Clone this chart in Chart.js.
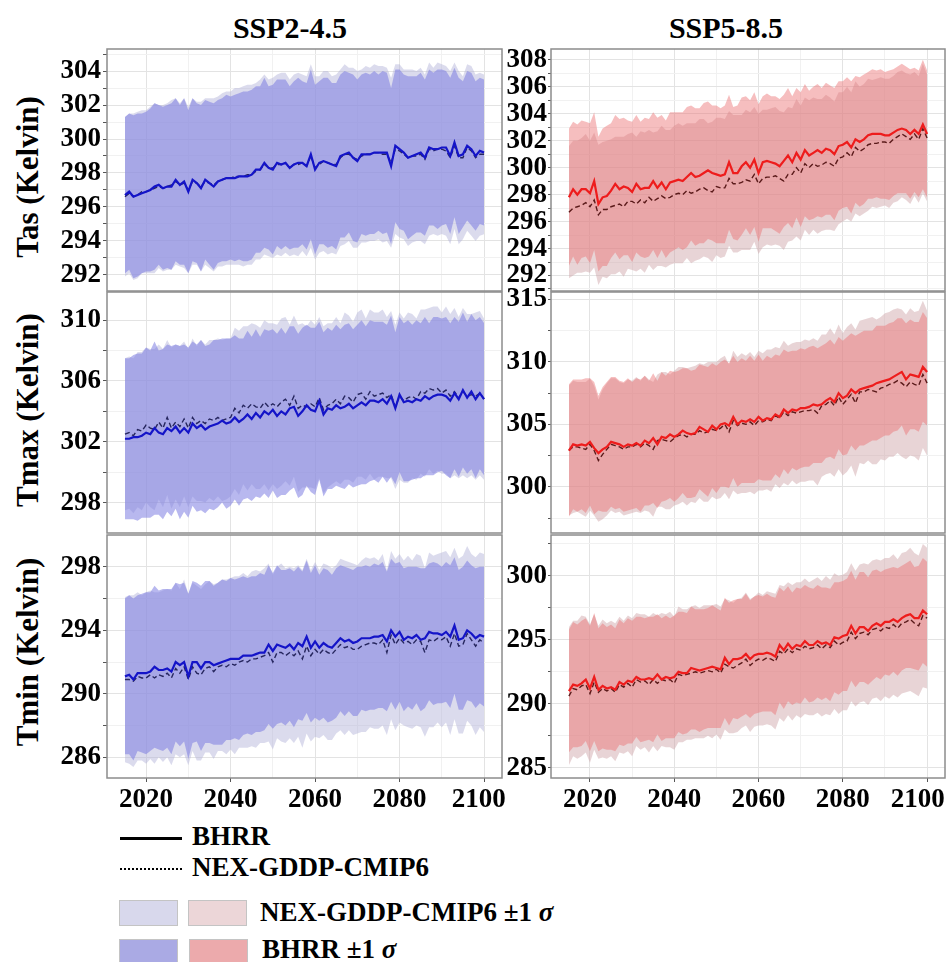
<!DOCTYPE html>
<html><head><meta charset="utf-8">
<script src="https://cdn.jsdelivr.net/npm/chart.js@4.4.1/dist/chart.umd.min.js"></script>
<style>
body{margin:0;width:947px;height:962px;background:#fff;position:relative;overflow:hidden;font-family:"Liberation Serif","Times New Roman",serif;color:#000;}
canvas{position:absolute;}
.t{position:absolute;font-weight:bold;white-space:nowrap;line-height:1;}
.title{font-size:30px;transform:translateX(-50%);}
.ylab{font-size:31px;transform:translate(-50%,-50%) rotate(-90deg);line-height:1.1;}
.leg{font-size:27px;}
.patch{position:absolute;border:1px solid #c4c4c4;box-sizing:border-box;}
</style></head><body>
<div class="t title" style="left:290px;top:13px;">SSP2-4.5</div>
<div class="t title" style="left:726px;top:13px;">SSP5-8.5</div>
<div class="t ylab" style="left:28px;top:177px;">Tas (Kelvin)</div>
<div class="t ylab" style="left:28px;top:410px;">Tmax (Kelvin)</div>
<div class="t ylab" style="left:28px;top:652px;">Tmin (Kelvin)</div>

<div style="position:absolute;left:120px;top:837px;width:62px;border-top:3px solid #000;"></div>
<div class="t leg" style="left:192px;top:823px;">BHRR</div>
<div style="position:absolute;left:120px;top:868px;width:62px;border-top:2px dotted #000;"></div>
<div class="t leg" style="left:192px;top:854px;">NEX-GDDP-CMIP6</div>
<div class="patch" style="left:119px;top:900px;width:59px;height:26px;background:#d8d8ec;"></div>
<div class="patch" style="left:188px;top:900px;width:59px;height:26px;background:#ecd6d8;"></div>
<div class="t leg" style="left:260px;top:899px;">NEX-GDDP-CMIP6 ±1 <span style="font-style:italic;">σ</span></div>
<div class="patch" style="left:119px;top:939px;width:59px;height:26px;background:#aaaae4;"></div>
<div class="patch" style="left:189px;top:939px;width:59px;height:26px;background:#ecaaac;"></div>
<div class="t leg" style="left:262px;top:936px;">BHRR ±1 <span style="font-style:italic;">σ</span></div>

<script>
// ---------------- DATA ----------------
const years = [2015,2016,2017,2018,2019,2020,2021,2022,2023,2024,
2025,2026,2027,2028,2029,2030,2031,2032,2033,2034,
2035,2036,2037,2038,2039,2040,2041,2042,2043,2044,
2045,2046,2047,2048,2049,2050,2051,2052,2053,2054,
2055,2056,2057,2058,2059,2060,2061,2062,2063,2064,
2065,2066,2067,2068,2069,2070,2071,2072,2073,2074,
2075,2076,2077,2078,2079,2080,2081,2082,2083,2084,
2085,2086,2087,2088,2089,2090,2091,2092,2093,2094,
2095,2096,2097,2098,2099,2100];
const xTickLabels = [2020,2040,2060,2080,2100];

// Tas, SSP2-4.5
const tasSsp2Bhrr = [296.7,296.9,296.6,296.7,296.8,296.9,297.0,297.2,297.3,297.1,
297.2,297.2,297.6,297.3,297.5,296.9,297.6,297.4,297.1,297.6,
297.4,297.2,297.5,297.6,297.7,297.7,297.7,297.8,297.8,297.8,
297.9,298.2,298.2,298.6,298.3,298.2,298.6,298.5,298.6,298.3,
298.5,298.6,298.6,298.4,299.1,298.2,298.6,298.7,298.6,298.5,
298.4,299.0,299.1,299.2,298.9,298.7,299.1,299.1,299.1,299.2,
299.2,299.2,299.2,298.4,299.6,299.4,299.2,298.9,299.0,299.1,
299.2,298.9,299.5,299.4,299.4,299.5,299.5,299.0,299.8,299.0,
299.1,299.6,299.4,299.0,299.3,299.2];
const tasSsp2Nex = [296.6,296.8,296.6,296.7,296.9,296.9,297.0,297.1,297.2,297.1,
297.2,297.3,297.5,297.3,297.4,297.0,297.5,297.4,297.2,297.5,
297.4,297.3,297.5,297.6,297.7,297.7,297.8,297.8,297.8,297.9,
297.9,298.1,298.2,298.5,298.3,298.3,298.5,298.5,298.6,298.3,
298.5,298.5,298.6,298.4,299.0,298.3,298.5,298.7,298.6,298.5,
298.5,298.9,299.1,299.1,298.9,298.8,299.0,299.1,299.1,299.2,
299.2,299.1,299.1,298.6,299.4,299.3,299.1,298.9,299.0,299.0,
299.1,298.8,299.4,299.3,299.4,299.4,299.3,298.9,299.6,298.9,
298.9,299.5,299.3,298.9,299.1,299.1];
const tasSsp2BhrrSd = [4.6,4.6,4.8,4.8,4.7,4.7,4.8,4.9,4.7,4.8,
4.8,4.9,4.8,4.7,4.9,4.8,4.8,4.7,4.9,4.7,
4.8,4.9,4.8,4.8,4.9,4.8,4.9,4.9,5.0,5.0,
5.0,4.9,4.9,5.0,4.8,5.0,4.9,5.0,4.9,4.8,
4.9,5.0,4.8,4.9,5.0,5.0,4.8,4.9,5.0,4.8,
4.9,4.8,4.9,4.7,4.9,4.8,4.7,4.8,4.7,4.8,
4.6,4.8,4.7,4.6,4.5,4.7,4.6,4.8,4.7,4.6,
4.7,4.6,4.6,4.5,4.7,4.6,4.5,4.6,4.4,4.6,
4.3,4.4,4.5,4.4,4.3,4.3];
const tasSsp2NexSd = [4.7,4.7,4.9,4.9,4.8,4.8,4.9,5.0,4.8,4.9,
4.9,5.0,4.9,4.8,5.0,4.9,4.9,4.8,5.0,4.9,
5.0,5.1,5.0,5.1,5.1,5.1,5.2,5.2,5.3,5.3,
5.3,5.2,5.3,5.3,5.2,5.3,5.3,5.4,5.3,5.2,
5.3,5.4,5.2,5.3,5.4,5.4,5.2,5.3,5.4,5.2,
5.3,5.2,5.3,5.1,5.3,5.2,5.1,5.2,5.1,5.2,
5.1,5.2,5.1,5.0,5.0,5.1,5.0,5.2,5.1,5.0,
5.1,5.0,5.1,4.9,5.1,5.0,5.0,5.1,4.9,5.1,
4.8,4.9,5.0,4.9,4.8,4.7];
const tasSsp2Ticks = [292,294,296,298,300,302,304];

// Tas, SSP5-8.5
const tasSsp5Bhrr = [297.8,298.4,298.0,298.4,298.4,298.1,299.0,297.3,297.8,297.9,
298.3,298.8,298.4,298.6,298.5,298.2,298.8,298.4,298.5,298.5,
299.0,298.5,298.9,298.4,298.9,299.0,299.1,299.0,299.3,299.6,
299.3,299.4,299.6,299.8,299.6,299.5,299.4,299.5,300.4,299.6,
299.6,300.1,300.4,300.0,300.6,299.6,300.4,300.5,300.4,300.3,
300.1,300.5,300.9,300.4,301.1,300.6,301.3,300.9,301.1,301.3,
301.1,301.4,301.3,301.0,301.6,301.7,301.9,301.5,302.1,301.9,
302.1,302.4,302.5,302.5,302.5,302.4,302.4,302.6,302.8,302.9,
302.8,302.5,302.8,302.5,303.2,302.5];
const tasSsp5Nex = [296.7,297.0,297.1,297.2,297.4,297.1,297.6,296.5,296.9,296.9,
297.1,297.2,297.3,297.1,297.5,297.5,297.3,297.6,297.4,297.8,
297.5,297.7,297.9,297.7,297.8,298.0,298.1,298.0,298.3,298.1,
298.2,298.4,298.5,298.3,298.2,298.6,298.5,298.5,299.2,298.8,
298.8,298.9,299.1,299.0,299.5,298.8,299.2,299.3,299.3,299.4,
299.2,299.0,299.5,299.5,300.0,299.6,300.3,300.0,300.3,300.1,
300.2,300.4,300.3,300.1,300.7,300.8,301.1,300.8,301.5,301.2,
301.4,301.7,301.8,301.8,301.9,301.9,301.8,302.1,302.3,302.5,
302.3,302.1,302.5,302.1,302.9,302.2];
const tasSsp5BhrrSd = [5.1,5.0,5.2,5.1,5.0,5.2,5.1,5.0,5.1,5.2,
5.0,5.1,5.2,5.1,5.0,5.2,5.1,5.0,5.2,5.1,
5.1,5.2,5.0,5.1,5.2,5.1,5.0,5.1,5.2,5.0,
5.1,5.0,5.2,5.1,5.0,5.1,5.0,5.1,5.0,4.9,
5.0,5.1,4.9,5.0,5.0,5.1,4.9,5.0,4.9,5.0,
5.0,4.9,5.0,4.9,4.8,5.0,4.9,4.8,4.9,4.9,
4.8,4.9,4.8,4.9,4.8,4.7,4.8,4.9,4.7,4.8,
4.8,4.7,4.8,4.7,4.8,4.7,4.8,4.7,4.7,4.8,
4.7,4.8,4.6,4.7,4.8,4.7];
const tasSsp5NexSd = [4.9,5.0,4.9,5.0,5.1,4.9,5.0,5.2,5.0,5.1,
5.0,5.1,5.0,5.2,5.0,5.1,5.0,5.1,5.2,5.0,
5.1,5.0,5.2,5.1,5.0,5.1,5.2,5.1,5.0,5.2,
5.1,5.2,5.1,5.0,5.2,5.1,5.2,5.1,5.0,5.1,
5.1,5.0,5.2,5.1,5.0,5.2,5.1,5.0,5.1,5.1,
5.0,5.1,5.0,4.9,5.1,5.0,4.9,5.0,4.9,5.0,
4.9,5.0,4.9,4.8,4.9,4.8,4.9,4.8,4.9,4.8,
4.8,4.9,4.7,4.8,4.8,4.7,4.8,4.7,4.8,4.7,
4.7,4.8,4.6,4.7,4.8,4.7];
const tasSsp5Ticks = [292,294,296,298,300,302,304,306,308];

// Tmax, SSP2-4.5
const tmaxSsp2Bhrr = [302.2,302.2,302.3,302.3,302.4,302.6,302.5,302.9,302.6,302.5,
302.9,302.7,303.0,302.6,302.9,302.6,303.2,302.9,303.1,302.8,
303.0,303.1,303.2,303.4,303.2,303.3,303.6,303.3,303.5,303.8,
303.5,303.9,303.6,304.0,303.8,304.1,303.7,304.0,303.8,304.2,
304.3,303.7,304.0,304.4,304.1,304.0,304.7,303.8,304.2,304.1,
304.4,304.2,304.3,304.5,304.2,304.4,304.6,304.4,304.7,304.7,
304.6,304.8,304.5,305.0,304.2,305.1,304.6,304.7,304.6,304.8,
304.7,305.0,304.8,305.0,305.1,305.1,305.0,304.7,305.2,304.8,
305.4,304.9,305.3,304.8,305.2,304.8];
const tmaxSsp2Nex = [302.5,302.6,302.4,302.8,302.7,303.1,302.9,302.8,303.3,302.9,
303.6,302.9,303.3,303.0,303.5,302.9,303.6,303.2,303.4,303.2,
303.5,303.4,303.6,303.4,303.5,303.6,304.2,303.9,304.4,304.2,
304.5,304.3,304.2,304.6,304.3,304.5,304.3,304.6,304.8,304.4,
305.0,304.2,304.4,304.3,304.5,304.3,304.9,304.1,304.4,304.5,
304.8,304.5,305.0,304.9,304.6,305.1,305.2,304.8,305.3,305.0,
305.1,305.2,304.9,305.1,304.3,305.0,304.7,304.9,305.0,304.8,
305.3,305.2,305.5,305.4,305.5,305.2,305.4,305.0,305.3,304.9,
305.3,305.0,305.1,305.0,305.2,304.8];
const tmaxSsp2BhrrSd = [5.3,5.3,5.4,5.5,5.4,5.6,5.5,5.7,5.4,5.6,
5.5,5.6,5.4,5.7,5.5,5.6,5.4,5.5,5.6,5.5,
5.4,5.6,5.5,5.4,5.6,5.5,5.4,5.5,5.3,5.5,
5.4,5.5,5.3,5.4,5.5,5.3,5.4,5.5,5.3,5.4,
5.3,5.4,5.5,5.3,5.4,5.5,5.2,5.4,5.3,5.2,
5.3,5.2,5.4,5.3,5.2,5.3,5.4,5.2,5.3,5.2,
5.3,5.1,5.2,5.3,5.0,5.1,5.2,5.3,5.1,5.2,
5.1,5.2,5.0,5.2,5.1,5.0,5.2,5.1,5.0,5.1,
5.1,5.0,5.1,5.2,5.0,5.0];
const tmaxSsp2NexSd = [5.0,5.0,5.1,5.1,5.2,5.1,5.2,5.3,5.1,5.2,
5.1,5.3,5.1,5.3,5.1,5.2,5.2,5.1,5.3,5.2,
5.2,5.3,5.2,5.3,5.3,5.2,5.3,5.4,5.2,5.4,
5.3,5.4,5.3,5.4,5.5,5.3,5.4,5.5,5.4,5.3,
5.3,5.5,5.4,5.3,5.5,5.4,5.3,5.5,5.4,5.3,
5.4,5.3,5.5,5.4,5.3,5.4,5.5,5.3,5.4,5.5,
5.4,5.5,5.3,5.5,5.4,5.5,5.4,5.6,5.4,5.3,
5.4,5.5,5.3,5.5,5.4,5.3,5.5,5.4,5.5,5.3,
5.5,5.4,5.3,5.5,5.4,5.3];
const tmaxSsp2Ticks = [298,302,306,310];

// Tmax, SSP5-8.5
const tmaxSsp5Bhrr = [302.9,303.4,303.3,303.4,303.3,303.6,303.1,302.7,303.0,303.2,
303.6,303.5,303.4,303.2,303.4,303.3,303.5,303.3,303.7,303.5,
303.9,303.4,304.0,303.9,304.2,304.0,304.2,304.5,304.3,304.2,
304.3,304.8,304.6,304.4,304.9,304.6,305.0,305.1,304.9,305.6,
305.0,305.3,305.2,305.4,305.2,305.6,305.3,305.5,305.4,305.8,
305.6,306.2,305.9,306.2,306.1,306.3,306.3,306.4,306.6,306.5,
306.6,306.9,307.1,306.8,307.5,307.1,307.3,307.8,307.5,307.8,
307.9,308.0,308.1,308.3,308.4,308.5,308.6,308.8,309.0,309.2,
308.6,309.0,308.9,308.8,309.6,309.2];
const tmaxSsp5Nex = [302.9,303.2,303.2,303.1,303.0,303.4,302.9,302.1,302.6,303.0,
303.4,303.3,303.2,303.0,303.2,303.2,303.4,303.2,303.5,303.3,
303.0,303.7,303.8,303.7,303.6,303.9,304.1,304.2,304.0,304.2,
304.2,304.5,304.3,304.4,304.6,304.5,304.7,305.0,304.4,305.3,
304.9,305.1,305.0,305.2,304.9,305.3,305.2,305.4,305.3,305.7,
305.5,306.0,305.7,306.0,305.9,306.0,306.1,306.1,306.2,305.9,
306.5,306.6,306.9,306.5,307.2,306.6,307.0,307.4,306.7,307.6,
307.6,307.8,307.7,307.6,307.9,308.0,308.2,308.3,308.5,308.3,
308.0,308.4,308.2,308.1,309.0,308.3];
const tmaxSsp5BhrrSd = [5.3,5.2,5.3,5.2,5.4,5.1,5.3,4.6,5.0,5.2,
5.2,5.3,5.1,5.2,5.3,5.1,5.2,5.3,5.2,5.0,
5.2,5.1,5.2,5.0,5.1,5.2,5.1,5.0,5.2,5.1,
5.1,5.0,5.1,5.2,5.0,5.1,5.0,5.1,5.0,4.9,
5.0,5.0,4.9,5.1,4.9,5.0,4.8,5.0,4.9,4.8,
4.9,4.8,4.9,4.7,4.8,4.8,4.7,4.8,4.7,4.6,
4.7,4.6,4.7,4.6,4.5,4.6,4.7,4.5,4.6,4.5,
4.6,4.5,4.4,4.6,4.5,4.4,4.5,4.4,4.5,4.3,
4.5,4.4,4.3,4.4,4.4,4.3];
const tmaxSsp5NexSd = [5.2,5.3,5.2,5.3,5.4,5.3,5.2,4.9,5.2,5.3,
5.3,5.4,5.2,5.3,5.4,5.3,5.4,5.3,5.4,5.3,
5.4,5.3,5.4,5.5,5.4,5.4,5.5,5.4,5.5,5.4,
5.5,5.4,5.5,5.6,5.4,5.5,5.6,5.5,5.4,5.6,
5.5,5.6,5.5,5.6,5.5,5.6,5.5,5.6,5.7,5.5,
5.6,5.7,5.6,5.5,5.7,5.6,5.7,5.6,5.7,5.8,
5.7,5.6,5.8,5.7,5.8,5.7,5.8,5.7,5.9,5.7,
5.8,5.7,5.9,5.8,5.7,5.9,5.8,5.9,5.8,5.9,
5.8,5.9,5.8,6.0,5.9,5.8];
const tmaxSsp5Ticks = [300,305,310,315];

// Tmin, SSP2-4.5
const tminSsp2Bhrr = [291.1,291.2,290.9,291.3,291.3,291.3,291.4,291.7,291.5,291.5,
291.6,291.4,292.0,291.8,292.0,291.1,292.0,292.0,291.6,292.0,
292.0,291.8,291.9,292.0,292.1,292.2,292.2,292.2,292.4,292.4,
292.4,292.5,292.6,292.6,293.1,292.7,293.1,293.0,292.9,293.1,
292.8,293.2,293.0,293.6,292.9,293.3,292.9,293.2,293.0,292.9,
293.2,293.5,293.3,293.4,293.2,293.3,293.5,293.5,293.5,293.6,
293.6,293.7,293.3,294.0,293.6,293.9,293.4,293.6,293.5,293.7,
293.4,293.5,293.9,293.8,293.8,293.7,293.9,293.6,294.3,293.4,
293.5,294.0,293.8,293.5,293.7,293.6];
const tminSsp2Nex = [290.9,290.9,290.8,291.1,291.0,291.0,291.2,291.0,291.2,291.1,
291.3,291.0,291.6,291.3,291.7,290.9,291.7,291.3,291.2,291.6,
291.7,291.4,291.7,291.8,291.7,291.9,291.8,292.0,292.1,292.0,
292.2,292.2,292.3,292.4,292.6,292.0,292.6,292.6,292.4,292.6,
292.4,292.7,292.2,293.0,292.4,292.8,292.5,292.8,292.6,292.5,
292.8,293.1,292.9,293.0,292.8,292.8,293.0,293.1,293.2,293.2,
293.1,293.4,292.6,293.7,293.1,293.5,293.2,293.3,293.1,293.4,
293.3,292.6,293.4,293.3,293.5,293.4,293.6,293.0,293.8,293.0,
293.1,293.8,293.4,293.0,293.4,293.2];
const tminSsp2BhrrSd = [4.9,5.0,5.1,4.9,5.0,5.1,5.0,5.1,5.0,5.1,
5.0,5.2,5.0,5.1,5.0,5.2,5.1,5.0,5.2,5.1,
5.1,5.0,5.1,5.2,5.0,5.1,5.0,5.1,5.0,4.9,
5.0,4.9,5.0,4.9,5.0,4.9,5.0,4.8,4.9,4.8,
4.9,4.8,4.7,4.8,4.7,4.8,4.6,4.7,4.8,4.6,
4.7,4.6,4.7,4.5,4.6,4.7,4.5,4.6,4.5,4.6,
4.5,4.6,4.4,4.5,4.6,4.4,4.5,4.4,4.5,4.3,
4.5,4.4,4.3,4.5,4.4,4.3,4.4,4.5,4.3,4.4,
4.5,4.4,4.3,4.4,4.3,4.4];
const tminSsp2NexSd = [5.2,5.3,5.4,5.3,5.2,5.4,5.3,5.4,5.2,5.4,
5.3,5.5,5.4,5.3,5.5,5.4,5.3,5.5,5.4,5.3,
5.4,5.5,5.3,5.4,5.5,5.4,5.6,5.4,5.5,5.4,
5.5,5.6,5.4,5.5,5.6,5.5,5.4,5.6,5.5,5.4,
5.5,5.4,5.6,5.5,5.4,5.5,5.3,5.4,5.5,5.4,
5.3,5.4,5.5,5.3,5.4,5.3,5.4,5.5,5.3,5.4,
5.3,5.4,5.2,5.3,5.4,5.3,5.2,5.4,5.3,5.4,
5.4,5.3,5.5,5.4,5.3,5.5,5.4,5.6,5.4,5.5,
5.6,5.5,5.4,5.6,5.5,5.6];
const tminSsp2Ticks = [286,290,294,298];

// Tmin, SSP5-8.5
const tminSsp5Bhrr = [291.0,291.5,291.4,291.6,291.9,291.2,292.1,291.1,291.4,291.2,
291.3,291.1,291.7,291.5,291.8,291.7,292.1,291.9,291.9,292.0,
291.9,292.3,291.9,292.1,292.0,292.1,292.5,292.4,292.4,292.8,
292.7,292.6,292.7,292.8,292.9,292.8,292.7,293.6,293.1,293.5,
293.5,293.6,293.9,293.5,293.8,293.9,293.9,294.0,293.9,293.7,
294.6,294.2,294.7,294.3,294.6,294.5,294.9,294.6,294.6,294.9,
294.7,294.8,294.6,295.2,295.1,295.3,295.4,296.1,295.5,296.0,
296.0,295.7,296.1,296.3,296.1,296.4,296.4,296.6,296.4,296.7,
296.9,297.0,296.7,296.7,297.3,297.0];
const tminSsp5Nex = [290.6,291.2,291.1,291.4,291.5,290.8,291.7,290.9,291.2,291.0,
291.2,290.9,291.5,291.3,291.6,291.3,291.9,291.7,291.8,291.5,
291.9,291.6,291.9,291.8,291.9,291.6,292.3,292.2,292.3,292.4,
292.5,292.4,292.5,292.6,292.5,292.7,292.4,293.1,292.9,292.8,
293.0,293.2,293.5,293.0,293.3,293.5,293.4,293.6,293.5,293.3,
294.1,293.9,294.3,294.0,294.3,294.2,294.5,294.3,294.4,294.6,
294.3,294.6,294.4,294.9,294.6,294.8,294.9,295.6,295.1,295.5,
295.6,295.4,295.8,295.9,295.7,296.0,295.9,296.2,295.9,296.3,
296.4,296.6,296.3,296.1,296.9,296.7];
const tminSsp5BhrrSd = [4.8,4.9,4.8,4.9,4.8,4.9,5.0,4.8,4.9,4.8,
4.9,4.8,4.9,4.8,4.9,4.8,4.7,4.9,4.8,4.8,
4.9,4.7,4.8,4.8,4.7,4.8,4.7,4.8,4.7,4.8,
4.7,4.8,4.7,4.7,4.8,4.7,4.6,4.7,4.8,4.6,
4.7,4.6,4.7,4.6,4.6,4.6,4.5,4.6,4.5,4.6,
4.5,4.6,4.5,4.4,4.5,4.5,4.4,4.5,4.4,4.4,
4.4,4.3,4.4,4.3,4.4,4.3,4.4,4.3,4.2,4.3,
4.3,4.2,4.3,4.2,4.2,4.1,4.2,4.1,4.2,4.1,
4.1,4.2,4.0,4.1,4.1,4.1];
const tminSsp5NexSd = [5.4,5.3,5.4,5.5,5.3,5.4,5.3,5.2,5.4,5.3,
5.3,5.4,5.3,5.2,5.3,5.4,5.2,5.3,5.2,5.3,
5.2,5.3,5.2,5.2,5.3,5.2,5.3,5.2,5.1,5.2,
5.2,5.1,5.2,5.1,5.2,5.1,5.2,5.1,5.2,5.1,
5.2,5.1,5.2,5.2,5.1,5.2,5.1,5.2,5.2,5.3,
5.2,5.3,5.2,5.3,5.2,5.3,5.3,5.2,5.3,5.3,
5.3,5.4,5.3,5.3,5.4,5.3,5.4,5.4,5.3,5.4,
5.4,5.5,5.4,5.4,5.5,5.4,5.5,5.5,5.4,5.5,
5.5,5.6,5.5,5.5,5.6,5.5];
const tminSsp5Ticks = [285,290,295,300];

// ---------------- STYLES / LAYOUT ----------------
const palettes = {
  ssp2: {bhrrLine:'#1414c8', nexLine:'#26265e', bhrrFill:'rgba(125,125,225,0.55)', nexFill:'rgba(175,175,215,0.45)'},
  ssp5: {bhrrLine:'#ee1c1c', nexLine:'#5a1a1a', bhrrFill:'rgba(235,110,112,0.45)', nexFill:'rgba(205,160,165,0.45)'}
};
const FONT = "'Liberation Serif','Times New Roman',serif";
const panels = [
  {ssp:'ssp2', bhrr:tasSsp2Bhrr, nex:tasSsp2Nex, bSd:tasSsp2BhrrSd, nSd:tasSsp2NexSd, ticks:tasSsp2Ticks, min:291.05, max:305.3, col:0, row:0},
  {ssp:'ssp5', bhrr:tasSsp5Bhrr, nex:tasSsp5Nex, bSd:tasSsp5BhrrSd, nSd:tasSsp5NexSd, ticks:tasSsp5Ticks, min:290.85, max:308.8, col:1, row:0},
  {ssp:'ssp2', bhrr:tmaxSsp2Bhrr, nex:tmaxSsp2Nex, bSd:tmaxSsp2BhrrSd, nSd:tmaxSsp2NexSd, ticks:tmaxSsp2Ticks, min:296.0, max:311.85, col:0, row:1},
  {ssp:'ssp5', bhrr:tmaxSsp5Bhrr, nex:tmaxSsp5Nex, bSd:tmaxSsp5BhrrSd, nSd:tmaxSsp5NexSd, ticks:tmaxSsp5Ticks, min:296.3, max:315.6, col:1, row:1},
  {ssp:'ssp2', bhrr:tminSsp2Bhrr, nex:tminSsp2Nex, bSd:tminSsp2BhrrSd, nSd:tminSsp2NexSd, ticks:tminSsp2Ticks, min:284.7, max:300.0, col:0, row:2},
  {ssp:'ssp5', bhrr:tminSsp5Bhrr, nex:tminSsp5Nex, bSd:tminSsp5BhrrSd, nSd:tminSsp5NexSd, ticks:tminSsp5Ticks, min:284.2, max:303.2, col:1, row:2}
];
// trailing blank after the last x label nudges it left, as in the reference where "2100" stays inside the figure
const colGeo = [{left:38, yw:69, plotW:395, padR:14, lastPad:'\u2009\u2009'}, {left:497, yw:54, plotW:394, padR:2, lastPad:'\u2002\u2009'}];
const rowGeo = [{top:49, h:242}, {top:292, h:241}, {top:535, h:243}];

const boxPlugin = {id:'box', afterDraw(chart){
  const {ctx, chartArea:a} = chart;
  ctx.save(); ctx.strokeStyle = '#8c8c8c'; ctx.lineWidth = 1.5;
  ctx.strokeRect(a.left, a.top, a.right - a.left, a.bottom - a.top); ctx.restore();
}};

function pts(vals){ return years.map((yr,i)=>({x:yr, y:vals[i]})); }
function band(mean, sd, sign){ return years.map((yr,i)=>({x:yr, y:mean[i] + sign*sd[i]})); }

panels.forEach(p => {
  const cg = colGeo[p.col], rg = rowGeo[p.row];
  const bottom = p.row === 2;
  const padT = 12, padB = bottom ? 0 : 10, xh = bottom ? 40 : 0;
  const cv = document.createElement('canvas');
  const W = cg.yw + cg.plotW + cg.padR, H = padT + rg.h + xh + padB;
  cv.width = W; cv.height = H;
  cv.style.left = cg.left + 'px'; cv.style.top = (rg.top - padT) + 'px';
  document.body.appendChild(cv);
  const pal = palettes[p.ssp];
  const step = p.ticks[1] - p.ticks[0];
  const yAll = [];
  p.ticks.forEach(m => { [m - step/2, m, m + step/2].forEach(v => { if (v > p.min + 0.05 && v < p.max - 0.05 && !yAll.includes(v)) yAll.push(v); }); });
  yAll.sort((a,b)=>a-b);
  const xAll = [2020,2030,2040,2050,2060,2070,2080,2090,2100];
  const lastX = xTickLabels[xTickLabels.length - 1];
  new Chart(cv, {
    type:'line',
    data:{datasets:[
      {data:pts(p.bhrr), borderColor:pal.bhrrLine, borderWidth:2.2, pointRadius:0, fill:false, order:0, tension:0},
      {data:pts(p.nex), borderColor:pal.nexLine, borderWidth:1.4, borderDash:[5,3], pointRadius:0, fill:false, order:1, tension:0},
      {data:band(p.bhrr, p.bSd, 1), borderWidth:0, pointRadius:0, backgroundColor:pal.bhrrFill, fill:3, order:3},
      {data:band(p.bhrr, p.bSd, -1), borderWidth:0, pointRadius:0, fill:false, order:3},
      {data:band(p.nex, p.nSd, 1), borderWidth:0, pointRadius:0, backgroundColor:pal.nexFill, fill:5, order:4},
      {data:band(p.nex, p.nSd, -1), borderWidth:0, pointRadius:0, fill:false, order:4}
    ]},
    options:{
      responsive:false, animation:false, devicePixelRatio:1,
      layout:{padding:{top:padT, bottom:padB, left:0, right:cg.padR}},
      plugins:{legend:{display:false}, tooltip:{enabled:false}},
      scales:{
        x:{type:'linear', min:2010.75, max:2104.25,
          afterBuildTicks:s => { s.ticks = xAll.map(v => ({value:v})); },
          afterFit:s => { s.height = xh; s.paddingLeft = 0; s.paddingRight = 0; },
          border:{display:false},
          grid:{color:c => xTickLabels.includes(c.tick.value) ? '#e3e3e3' : '#f1f1f1', lineWidth:1,
                drawTicks:bottom, tickLength:4, tickColor:c => xTickLabels.includes(c.tick.value) ? '#555' : 'rgba(0,0,0,0)'},
          ticks:{display:bottom, padding:2, maxRotation:0, autoSkip:false, color:'#000',
                 font:{family:FONT, size:27, weight:'bold'},
                 callback:v => xTickLabels.includes(v) ? (v === lastX ? String(v) + cg.lastPad : String(v)) : ''}
        },
        y:{type:'linear', min:p.min, max:p.max,
          afterBuildTicks:s => { s.ticks = yAll.map(v => ({value:v})); },
          afterFit:s => { s.width = cg.yw; s.paddingTop = 0; s.paddingBottom = 0; },
          border:{display:false},
          grid:{color:c => p.ticks.includes(c.tick.value) ? '#e3e3e3' : '#f1f1f1', lineWidth:1,
                drawTicks:true, tickLength:p.col === 0 ? 4 : 3, tickColor:'#555'},
          ticks:{padding:p.col === 0 ? 2 : 1, autoSkip:false, color:'#000',
                 font:{family:FONT, size:27, weight:'bold'},
                 callback:v => p.ticks.includes(v) ? String(v) : ''}
        }
      }
    },
    plugins:[boxPlugin]
  });
});
</script>
</body></html>
